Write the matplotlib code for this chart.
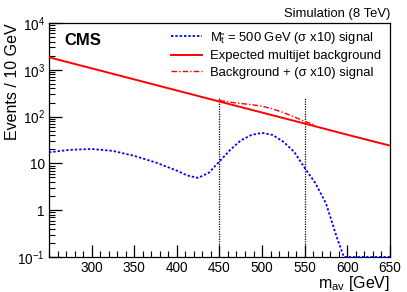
#!/usr/bin/env python3
# -*- coding: utf-8 -*-

import matplotlib
matplotlib.use("Agg")
import matplotlib.pyplot as plt
from matplotlib.ticker import MultipleLocator, LogLocator, FixedLocator, FixedFormatter, NullFormatter

plt.rcParams['font.family'] = ['Liberation Sans', 'DejaVu Sans']
plt.rcParams['mathtext.fontset'] = 'custom'
plt.rcParams['mathtext.rm'] = 'Liberation Sans'
plt.rcParams['mathtext.it'] = 'Liberation Sans:italic'

# expected multijet background
bkg_m = [250, 300, 350, 400, 450, 500, 550, 600, 650]
bkg_y = [1850, 1076, 624, 362, 210, 122, 71, 41, 24]

# signal M_stop = 500 GeV (x10)
sig_m = [250, 275, 300, 325, 350, 375, 400, 412.5, 425, 437.5, 450, 462.5, 475,
         487.5, 500, 512.5, 525, 537.5, 550, 562.5, 575, 587.5, 596, 650]
sig_y = [17.3, 19.5, 20.3, 18.5, 14.5, 10.5, 7.0, 5.5, 4.9, 6.3, 11.0, 19.3, 31,
         40.5, 45, 40.5, 29, 17.8, 8.0, 3.8, 1.4, 0.27, 0.1, 0.1]

# background + signal in the window
sb_m = [450, 462.5, 475, 487.5, 500, 512.5, 525, 537.5, 550, 562.5]
sb_y = [221, 203, 191, 180, 167, 146, 122, 99, 79, 66]

window = [450, 550]
window_top = 250

yticks = [0.1, 1, 10, 100, 1000, 10000]
ylabels = ['10$^{-1}$', '1', '10', '10$^{2}$', '10$^{3}$', '10$^{4}$']
xticks = [300, 350, 400, 450, 500, 550, 600, 650]

fig = plt.figure(figsize=(4.07, 2.92), dpi=100)
ax = fig.add_axes([0.1204, 0.1199, 0.958 - 0.1204, 0.9212 - 0.1199])

ax.plot(sig_m, sig_y, color='#0000ff', lw=1.3, ls=(0, (1.3, 1.1)), clip_on=False,
        label='M$_{\\tilde{\\mathrm{t}}}$ = 500 GeV (σ x10) signal', zorder=3)
ax.plot(bkg_m, bkg_y, color='#ff0000', lw=1.4, label='Expected multijet background', zorder=4)
ax.plot(sb_m, sb_y, color='#ff0000', lw=1.0, ls=(0, (4, 1.5, 1, 1.5)),
        label='Background + (σ x10) signal', zorder=4)
for w in window:
    ax.plot([w, w], [0.1, window_top], color='black', lw=0.9, ls=(0, (1, 1)), zorder=2)

ax.set_yscale('log')
ax.set_xlim(250, 650)
ax.set_ylim(0.1, 10000)

ax.xaxis.set_minor_locator(MultipleLocator(10))
ax.set_xticks(xticks)
ax.set_xticklabels([str(x) for x in xticks])
ax.yaxis.set_major_locator(FixedLocator(yticks))
ax.yaxis.set_major_formatter(FixedFormatter(ylabels))
ax.yaxis.set_minor_locator(LogLocator(base=10, subs=range(2, 10)))
ax.yaxis.set_minor_formatter(NullFormatter())

ax.tick_params(which='major', direction='in', length=9, width=0.9, labelsize=9.8, pad=3)
ax.tick_params(which='minor', direction='in', length=4.5, width=0.8)
ax.tick_params(top=False, right=False)
for s in ax.spines.values():
    s.set_linewidth(0.9)

ax.set_xlabel('m$_{\\mathrm{av}}$ [GeV]', fontsize=11.5, loc='right')
ax.set_ylabel('Events / 10 GeV', fontsize=11.5, loc='top')
ax.xaxis.set_label_coords(1.0, -0.072)
ax.yaxis.set_label_coords(-0.085, 1.0)

ax.text(0.044, 0.906, 'CMS', transform=ax.transAxes, fontsize=12, fontweight='bold',
        va='baseline', ha='left')
fig.text(0.958, 0.942, 'Simulation (8 TeV)', fontsize=9.4, ha='right', va='baseline')

ax.legend(loc='upper left', bbox_to_anchor=(171 / 407, 1 - 30 / 292),
          bbox_transform=fig.transFigure, frameon=False, fontsize=9.4,
          handlelength=2.4, handletextpad=0.55, labelspacing=0.33,
          borderpad=0, borderaxespad=0)

fig.savefig('out.png', dpi=100)
